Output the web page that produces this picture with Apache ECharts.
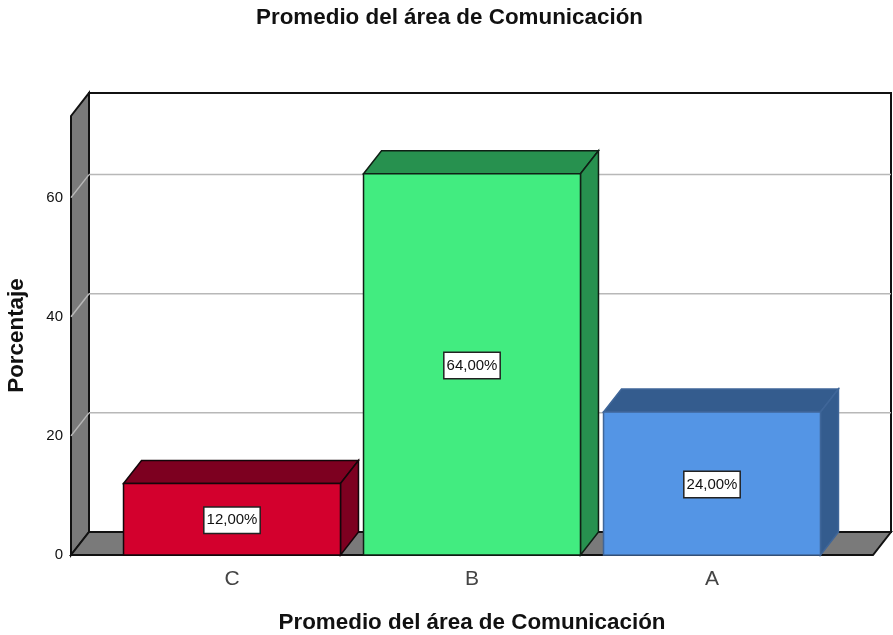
<!DOCTYPE html>
<html><head><meta charset="utf-8">
<style>html,body{margin:0;padding:0;background:#fff}#c{width:893px;height:635px}</style>
<script src="https://cdn.jsdelivr.net/npm/echarts@6/dist/echarts.min.js"></script>
</head><body><div id="c"></div>
<script>
const categories = ['C', 'B', 'A'];
const percentages = [12, 64, 24];
const valueTicks = [0, 20, 40, 60];
const chartTitle = 'Promedio del área de Comunicación';
const xAxisTitle = 'Promedio del área de Comunicación';
const yAxisTitle = 'Porcentaje';

const frontColors = ['#d3002d', '#42ec80', '#5495e5'];
const sideColors = ['#7d0020', '#27914f', '#345c8e'];
const edgeColors = ['#14060a', '#0f1f15', '#3f6699'];
const DX = 18, DY = -23, SIDE_PAD = 41, BAR_RATIO = 0.904;
const WALL = '#7a7a7a', INK = '#111', GRID = '#b8b8b8';
const FONT = '"Liberation Sans", Arial, sans-serif';

function poly(points, fill, stroke, lw) {
  return { type: 'polygon', shape: { points }, style: { fill, stroke, lineWidth: lw } };
}
function seg(x1, y1, x2, y2, stroke, lw) {
  return { type: 'line', shape: { x1, y1, x2, y2 }, style: { stroke, lineWidth: lw, fill: null } };
}

function renderFrame(params, api) {
  const cs = params.coordSys;
  const L = cs.x - SIDE_PAD, R = cs.x + cs.width + SIDE_PAD;
  const T = cs.y, B = cs.y + cs.height;
  const children = [
    { type: 'rect', shape: { x: L + DX, y: T + DY, width: R - L, height: B - T }, style: { fill: '#fff', stroke: INK, lineWidth: 2 } },
    poly([[L, T], [L + DX, T + DY], [L + DX, B + DY], [L, B]], WALL, INK, 2),
    poly([[L, B], [L + DX, B + DY], [R + DX, B + DY], [R, B]], WALL, INK, 2)
  ];
  valueTicks.forEach(v => {
    if (v === 0) return;
    const y = api.coord([0, v])[1];
    children.push(seg(L, y, L + DX, y + DY, GRID, 1.5));
    children.push(seg(L + DX, y + DY, R + DX, y + DY, GRID, 1.5));
  });
  return { type: 'group', children };
}

function renderBar(params, api) {
  const i = api.value(0);
  const v = api.value(1);
  const top = api.coord([i, v]);
  const base = api.coord([i, 0]);
  const w = api.size([1, 0])[0] * BAR_RATIO;
  const l = top[0] - w / 2, r = top[0] + w / 2;
  const t = top[1], b = base[1];
  const e = edgeColors[i];
  return {
    type: 'group',
    children: [
      poly([[l, t], [l + DX, t + DY], [r + DX, t + DY], [r, t]], sideColors[i], e, 1.5),
      poly([[r, t], [r + DX, t + DY], [r + DX, b + DY], [r, b]], sideColors[i], e, 1.5),
      { type: 'rect', shape: { x: l, y: t, width: r - l, height: b - t }, style: { fill: frontColors[i], stroke: e, lineWidth: 1.5 } },
      {
        type: 'text', x: top[0], y: (t + b) / 2 + 1,
        style: {
          text: v.toFixed(2).replace('.', ',') + '%',
          x: 0, y: 0, align: 'center', verticalAlign: 'middle',
          font: '15px ' + FONT, fill: '#111',
          backgroundColor: '#fff', borderColor: '#222', borderWidth: 1.5,
          padding: [5, 2, 5, 2]
        }
      }
    ]
  };
}

const chart = echarts.init(document.getElementById('c'), null, { renderer: 'canvas' });
chart.setOption({
  animation: false,
  backgroundColor: '#fff',
  title: {
    text: chartTitle, left: 444.5, top: 2, textAlign: 'center',
    textStyle: { fontFamily: FONT, fontWeight: 'bold', fontSize: 22.4, color: '#111' }
  },
  grid: { left: 112, width: 720, top: 116, bottom: 80, containLabel: false, outerBoundsMode: 'none' },
  xAxis: {
    type: 'category', data: categories,
    name: xAxisTitle, nameLocation: 'middle', nameGap: 57,
    nameTextStyle: { fontFamily: FONT, fontWeight: 'bold', fontSize: 22.4, color: '#111' },
    axisLine: { show: false }, axisTick: { show: false },
    axisLabel: { fontFamily: FONT, fontSize: 21, color: '#444', margin: 14 },
    splitLine: { show: false }
  },
  yAxis: {
    type: 'value', min: 0, max: 73.7, interval: 20,
    name: yAxisTitle, nameLocation: 'middle', nameGap: 84,
    nameTextStyle: { fontFamily: FONT, fontWeight: 'bold', fontSize: 22.4, color: '#111' },
    axisLine: { show: false }, axisTick: { show: false }, splitLine: { show: false },
    axisLabel: { fontFamily: FONT, fontSize: 15, color: '#111', margin: 49, showMaxLabel: false, padding: [8, 0, 0, 0] }
  },
  series: [
    { type: 'custom', z: 1, silent: true, renderItem: renderFrame, data: [[0, 0]], clip: false },
    {
      type: 'custom', z: 2, renderItem: renderBar, clip: false,
      encode: { x: 0, y: 1 },
      data: percentages.map((v, i) => [i, v])
    }
  ]
});
</script></body></html>
